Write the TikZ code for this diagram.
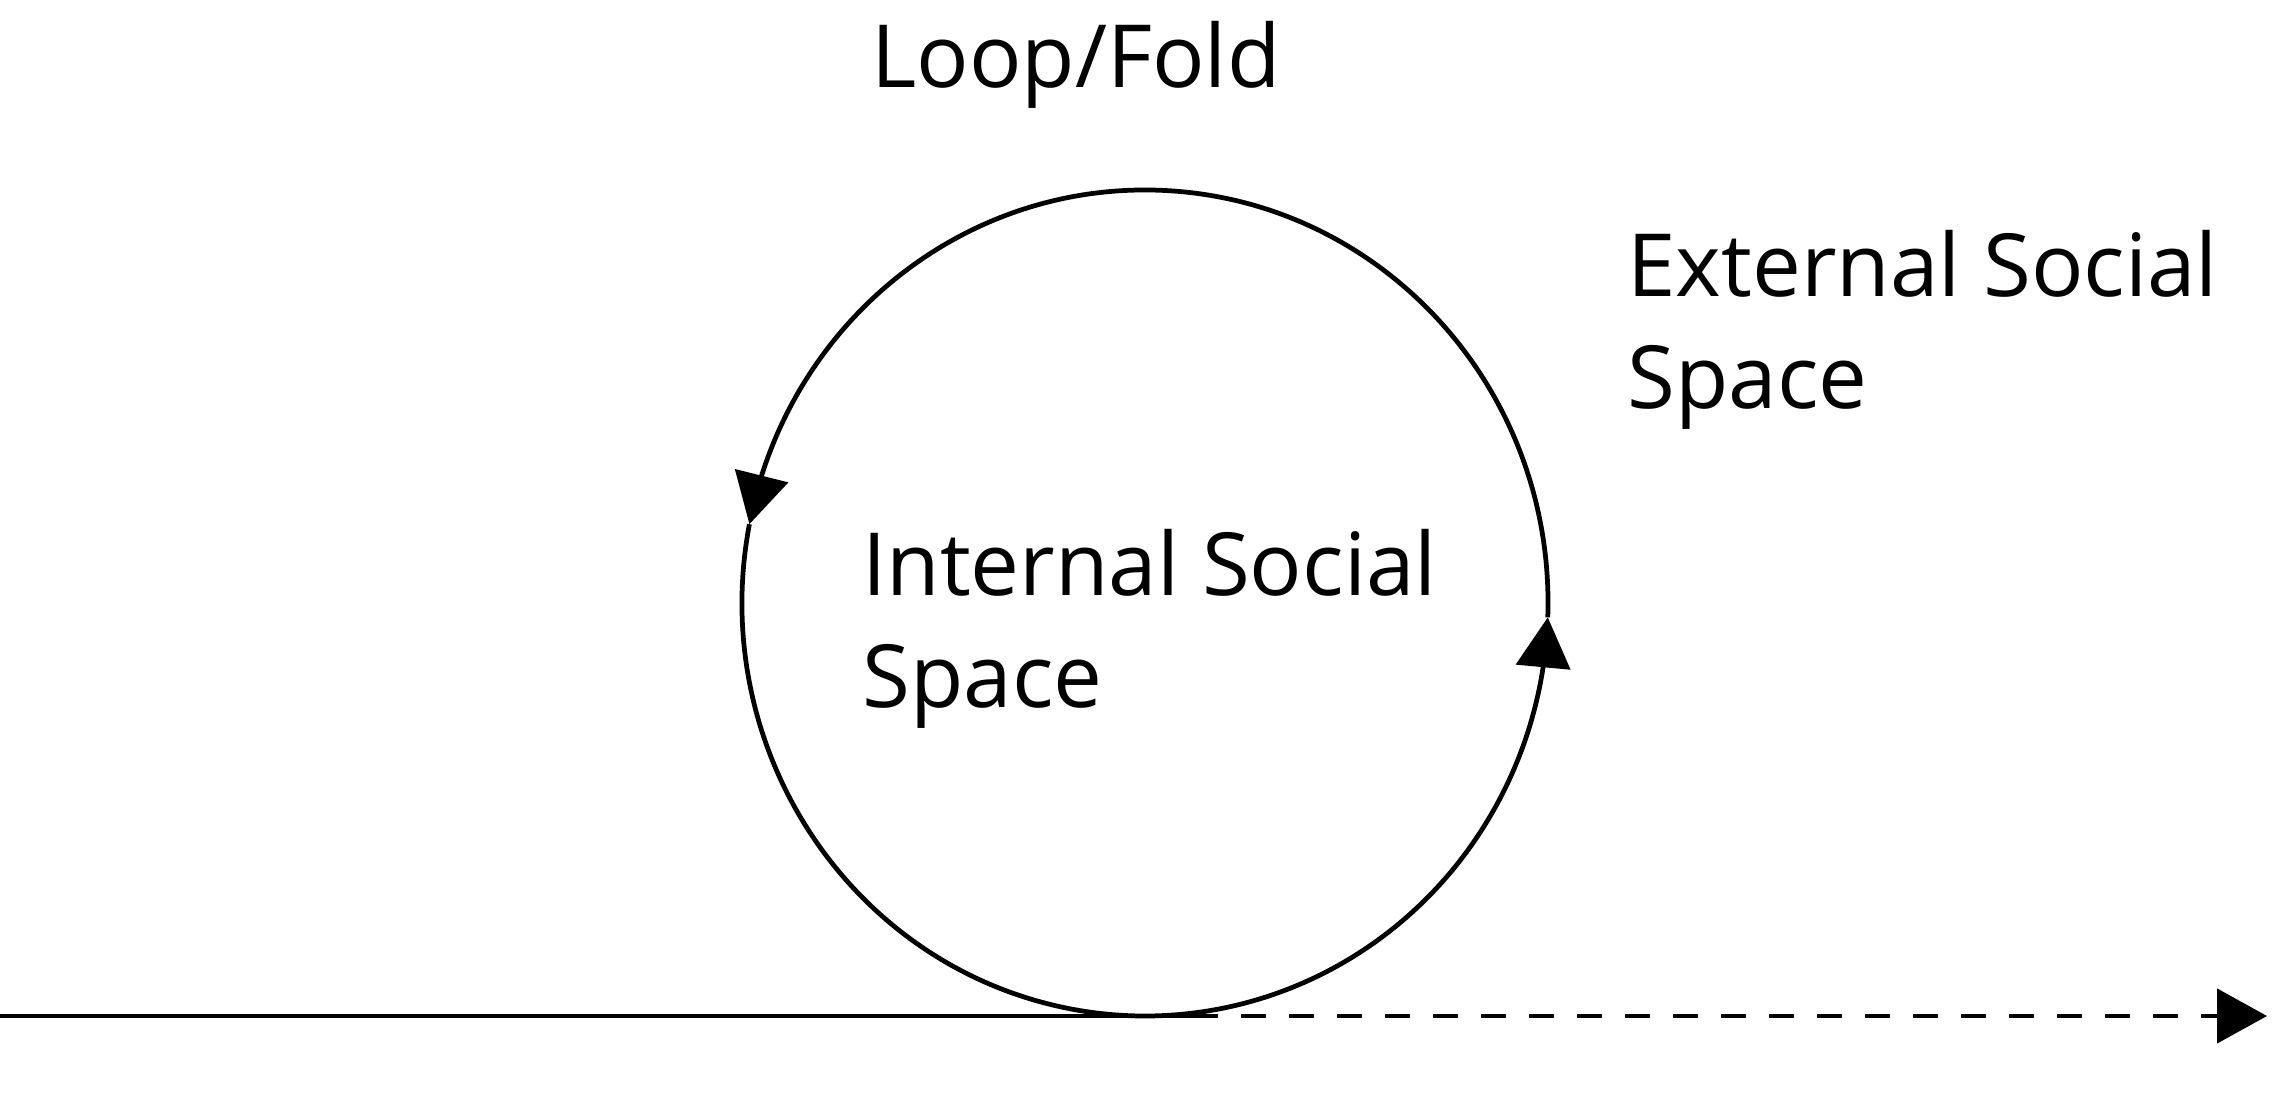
\documentclass[tikz,border=0pt]{standalone}
\usepackage{fontspec}
\setmainfont{Open Sans}
\usetikzlibrary{arrows.meta,bending}

\begin{document}
\begin{tikzpicture}[line width=1.35pt, >={Triangle[length=5mm,width=5.4mm]},
    every node/.style={inner sep=0pt, font=\fontsize{24.8}{32}\selectfont},
    label text/.style={anchor=base west, align=left},
    time line/.style={dash pattern=on 2.5mm off 2.3mm}]

\useasboundingbox (0,0) rectangle (22.87,11.12);

\coordinate (centre) at (11.45,5.09);
\coordinate (start) at (0,0.96);
\coordinate (touch) at (11.93,0.96);
\coordinate (end) at (22.67,0.96);

\node[label text] (loop) at (8.69,10.24) {Loop/Fold};
\node[label text] (ext) at (16.25,7.03) {External Social\\Space};
\node[label text] (int) at (8.60,4.04) {Internal Social\\Space};

% the fold, running anticlockwise
\draw[->] (centre) ++(-2:4.03 and 4.13)
    arc[start angle=-2, end angle=169, x radius=4.03, y radius=4.13];
\draw[->] (centre) ++(169:4.03 and 4.13)
    arc[start angle=169, end angle=358, x radius=4.03, y radius=4.13];

% the line
\draw (start) -- (touch);
\draw[->, time line] (touch) -- (end);

\end{tikzpicture}
\end{document}
